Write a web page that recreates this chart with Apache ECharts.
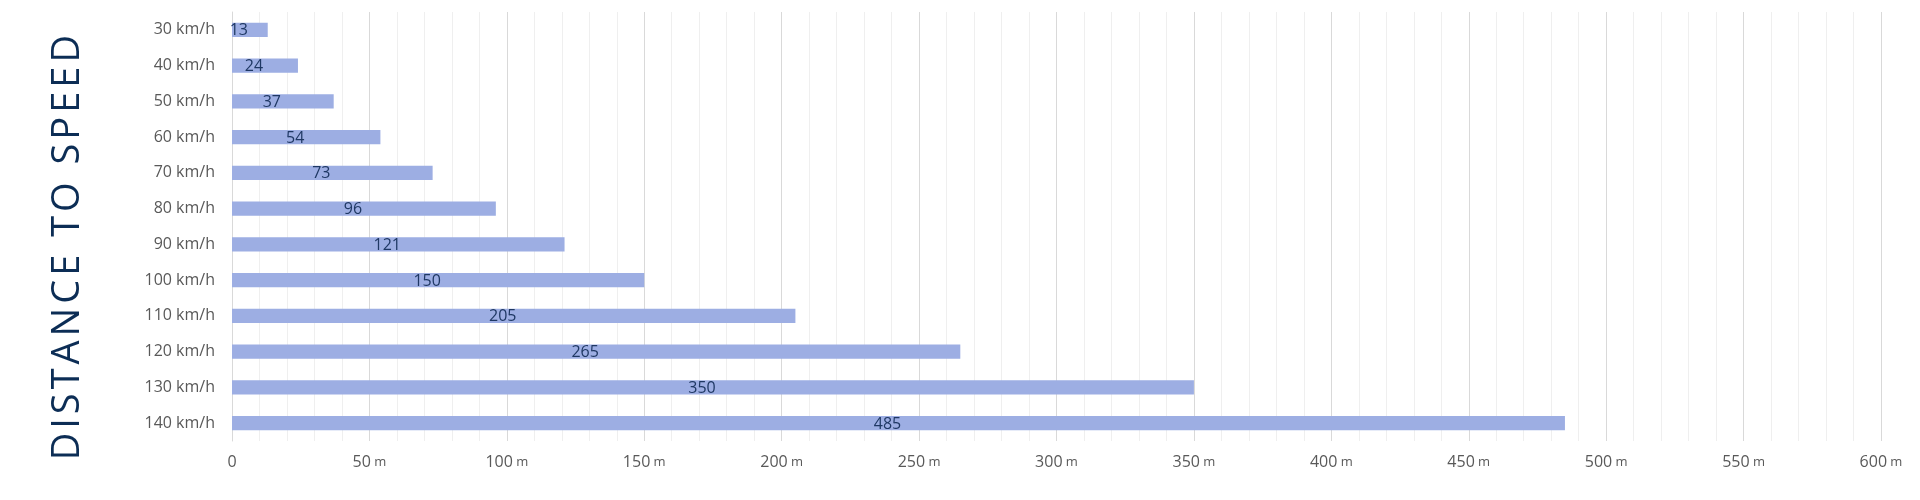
<!DOCTYPE html>
<html>
<head>
<meta charset="utf-8">
<script src="https://cdn.jsdelivr.net/npm/echarts@6/dist/echarts.min.js"></script>
<style>
html, body { margin: 0; padding: 0; background: #fff; }
#chart { width: 1920px; height: 500px; }
</style>
</head>
<body>
<div id="chart"></div>
<script>
// 数据
var speeds = ['30 km/h', '40 km/h', '50 km/h', '60 km/h', '70 km/h', '80 km/h',
    '90 km/h', '100 km/h', '110 km/h', '120 km/h', '130 km/h', '140 km/h'];
var distances = [13, 24, 37, 54, 73, 96, 121, 150, 205, 265, 350, 485];
var titleText = 'DISTANCE TO SPEED';

// 标题字母间距：每个字母一个 rich 片段
var spacedTitle = titleText.split('').map(function (c) {
    return '{t|' + c + '}';
}).join('');

var chart = echarts.init(document.getElementById('chart'));
var option = {
    backgroundColor: '#fff',
    animation: false,
    grid: {
        left: 232,
        right: 39,
        top: 12,
        bottom: 59
    },
    graphic: [{
        type: 'text',
        left: 49,
        top: 35,
        rotation: Math.PI / 2,
        style: {
            text: spacedTitle,
            fill: '#0c2d55',
            rich: {
                t: {
                    fontFamily: 'Open Sans',
                    fontSize: 38,
                    fontWeight: 500,
                    fill: '#0c2d55',
                    padding: [0, 2, 0, 2]
                }
            }
        }
    }],
    xAxis: {
        type: 'value',
        min: 0,
        max: 600,
        interval: 50,
        axisLine: { show: false },
        axisTick: { show: false },
        splitLine: { show: true, lineStyle: { color: '#d9d9d9', width: 1 } },
        minorTick: { show: false, splitNumber: 5 },
        minorSplitLine: { show: true, lineStyle: { color: '#efefef', width: 1 } },
        axisLabel: {
            margin: 13,
            formatter: function (v) {
                if (v === 0) return '{n|0}';
                return '{n|' + v + '} {u|m}';
            },
            rich: {
                n: { fontFamily: 'Open Sans', fontSize: 16, color: '#595959' },
                u: { fontFamily: 'Open Sans', fontSize: 13, color: '#595959' }
            }
        }
    },
    yAxis: {
        type: 'category',
        inverse: true,
        data: speeds,
        axisLine: { show: true, lineStyle: { color: '#d9d9d9' } },
        axisTick: { show: false },
        axisLabel: {
            margin: 17,
            fontFamily: 'Open Sans',
            fontSize: 16,
            color: '#595959'
        }
    },
    series: [{
        type: 'bar',
        data: distances,
        barCategoryGap: '60%',
        itemStyle: { color: '#9daee3' },
        label: {
            show: true,
            position: 'inside',
            offset: [-11, 1],
            fontFamily: 'Open Sans',
            fontSize: 16,
            color: '#1f3864'
        }
    }]
};
chart.setOption(option);
window.onresize = chart.resize;
</script>
</body>
</html>
